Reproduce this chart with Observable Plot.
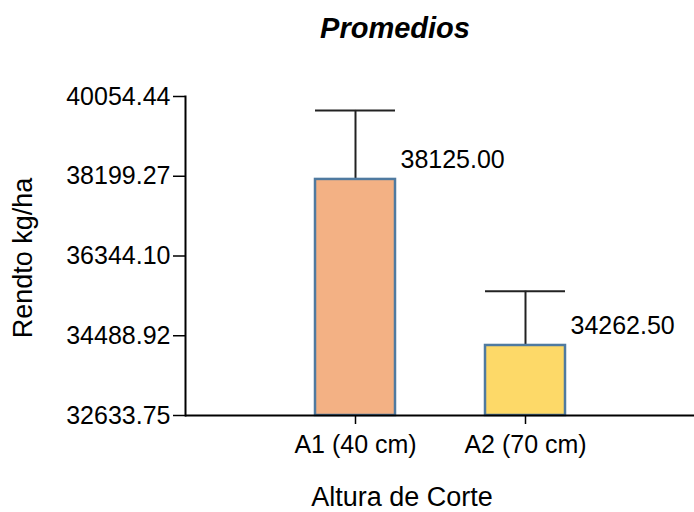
<!DOCTYPE html>
<html>
<head>
<meta charset="utf-8">
<script src="https://cdn.jsdelivr.net/npm/d3@7"></script>
<script src="https://cdn.jsdelivr.net/npm/@observablehq/plot@0.6"></script>
<style>
  html, body { margin: 0; padding: 0; background: #fff; }
</style>
</head>
<body>
<div id="chart"></div>
<script>
const categories = ["A1 (40 cm)", "A2 (70 cm)"];
const means = [38125.00, 34262.50];
const upper = [39730, 35525];
const fills = ["#F3B184", "#FDD968"];
const yTicks = [32633.75, 34488.92, 36344.10, 38199.27, 40054.44];
const title = "Promedios";
const xTitle = "Altura de Corte";
const yTitle = "Rendto kg/ha";

const yMin = yTicks[0];
const yMax = yTicks[yTicks.length - 1];
const data = categories.map((c, i) => ({cat: c, mean: means[i], upper: upper[i], fill: fills[i]}));

const font = "'Liberation Sans', Arial, sans-serif";

const chart = Plot.plot({
  width: 694,
  height: 512,
  marginLeft: 185,
  marginRight: 0,
  marginTop: 96,
  marginBottom: 97,
  style: {fontFamily: font, fontSize: "25px", color: "#000", background: "#fff", overflow: "visible"},
  x: {domain: categories, paddingInner: 0.532, paddingOuter: 0.757, align: 0.5, label: null},
  y: {domain: [yMin, yMax], label: null},
  marks: [
    Plot.ruleX(data, {x: "cat", y1: "mean", y2: "upper", stroke: "#222", strokeWidth: 2}),
    Plot.tickY(data, {x: "cat", y: "upper", stroke: "#222", strokeWidth: 2}),
    Plot.barY(data, {x: "cat", y1: yMin, y2: "mean", fill: "fill", stroke: "#4F7AA0", strokeWidth: 2.5}),
    Plot.text(data, {x: "cat", y: "mean", text: d => d.mean.toFixed(2), textAnchor: "start", dx: 45, dy: -19, fontSize: 25, fill: "#000"}),
    Plot.axisY({ticks: yTicks, tickFormat: d => d.toFixed(2), tickSize: 12, tickPadding: 3, label: null, fontSize: 25, stroke: "#000", strokeWidth: 1.5}),
    Plot.axisX({tickSize: 9, tickPadding: 11, label: null, fontSize: 25, stroke: "#000", strokeWidth: 1.5}),
    Plot.ruleY([yMin], {stroke: "#000", strokeWidth: 2}),
    Plot.frame({anchor: "left", stroke: "#000", strokeWidth: 2}),
    Plot.text([yTitle], {frameAnchor: "left", textAnchor: "middle", lineAnchor: "middle", rotate: -90, dx: -162, dy: 2, fontSize: 27, fill: "#000"}),
    Plot.text([xTitle], {frameAnchor: "bottom", textAnchor: "middle", lineAnchor: "middle", dx: -38, dy: 82, fontSize: 27, fill: "#000"}),
    Plot.text([title], {frameAnchor: "top", textAnchor: "middle", lineAnchor: "middle", dx: -45, dy: -68, fontSize: 29, fontWeight: "bold", fontStyle: "italic", fill: "#000"})
  ]
});
document.getElementById("chart").appendChild(chart);
</script>
</body>
</html>
